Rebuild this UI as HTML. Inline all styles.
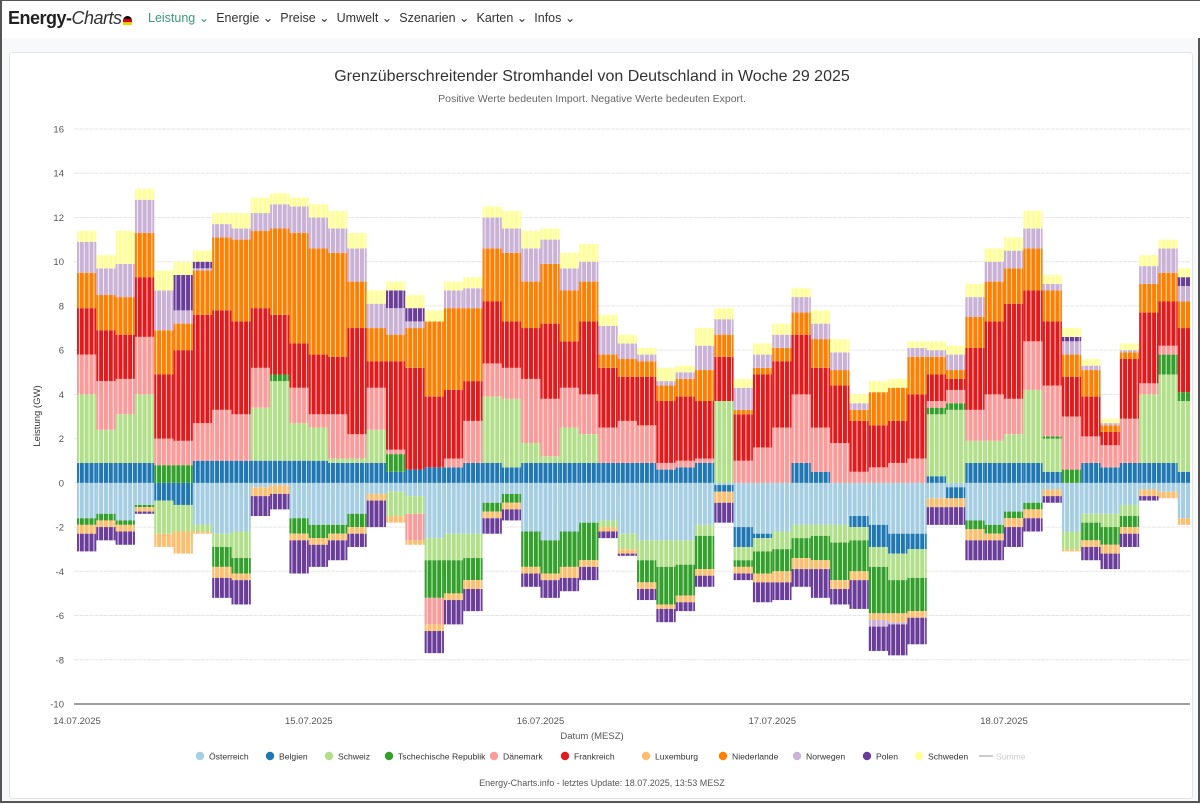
<!DOCTYPE html>
<html><head><meta charset="utf-8"><style>
html,body{margin:0;padding:0}
body{width:1200px;height:803px;overflow:hidden;background:#f8f9fa;font-family:"Liberation Sans",sans-serif;position:relative;box-sizing:border-box;border:2px solid #555;border-top:1px solid #555}
.nav{position:absolute;left:0;top:0;width:1198px;height:37px;background:#fff}
.logo{position:absolute;left:6px;top:7px;font-size:18px;font-weight:bold;color:#222;letter-spacing:-0.5px;white-space:nowrap}
.logo i{font-weight:normal;color:#333}
.flag{display:inline-block;width:9px;height:9px;border-radius:5px 5px 0 0;background:linear-gradient(#000 0 33%,#d00 33% 66%,#fc0 66%);vertical-align:-1px;margin-left:1px}
.menu{position:absolute;top:9px;font-size:12.5px;color:#333;white-space:nowrap}
.menu span{margin-right:7px}
.card{position:absolute;left:7px;top:51px;width:1182px;height:745px;background:#fff;border:1px solid #e3e3e3;border-radius:3px}
svg text{font-family:"Liberation Sans",sans-serif}
</style></head><body>
<div class="nav">
<div class="logo">Energy-<i>Charts</i><span class="flag"></span></div>
<div class="menu" style="left:146px"><span style="color:#3a9a7a">Leistung ⌄</span><span>Energie ⌄</span><span>Preise ⌄</span><span>Umwelt ⌄</span><span>Szenarien ⌄</span><span>Karten ⌄</span><span>Infos ⌄</span></div>
</div>
<div class="card"></div>
<svg id="chart" width="1200" height="803" style="position:absolute;left:0;top:0">
<text x="590" y="80" text-anchor="middle" font-size="16" fill="#333">Grenzüberschreitender Stromhandel von Deutschland in Woche 29 2025</text>
<text x="590" y="101" text-anchor="middle" font-size="10.5" fill="#666">Positive Werte bedeuten Import. Negative Werte bedeuten Export.</text>
<text transform="translate(38,415) rotate(-90)" text-anchor="middle" font-size="9.5" fill="#333">Leistung (GW)</text>
<text x="590" y="738" text-anchor="middle" font-size="9.5" fill="#555">Datum (MESZ)</text>
<text x="600" y="785" text-anchor="middle" font-size="9" fill="#555">Energy-Charts.info - letztes Update: 18.07.2025, 13:53 MESZ</text>
<g id="grid"></g><g id="bars"></g><g id="axes"></g><g id="legend"></g>
</svg>
<script>
const hours=[0,2,4,6,8,10,12,14,16,18,20,22,24,26,28,30,32,34,36,38,40,42,44,46,48,50,52,54,56,58,60,62,64,66,68,70,72,74,76,78,80,82,84,86,88,90,92,94,96,98,100,102,104,106,108,110,112,114];
const AT=[-1.6,-1.4,-1.7,-1.0,0,0,-1.9,-2.3,-2.2,-0.2,-0.1,-1.6,-1.9,-1.9,-1.4,-0.5,-0.4,-0.6,-2.5,-2.3,-2.3,-0.9,-0.5,-2.2,-2.6,-2.2,-1.8,-1.7,-2.3,-2.6,-2.6,-2.6,-1.9,-0.1,-2.0,-2.3,-2.2,-1.9,-1.9,-1.9,-1.5,-1.9,-2.3,-2.3,-0.7,-0.2,-1.7,-1.9,-1.3,-0.9,-0.3,-2.2,-1.4,-1.4,-1.0,-0.3,-0.4,-1.6];
const BE=[0.9,0.9,0.9,0.9,-0.8,-1.0,1.0,1.0,1.0,1.0,1.0,1.0,1.0,0.9,0.9,0.9,0.5,0.6,0.7,0.7,0.9,0.9,0.7,0.9,0.9,0.9,0.9,0.9,0.9,0.9,0.6,0.7,0.9,-0.3,-0.9,-0.2,0,0.9,0.5,0,-0.5,-1.0,-0.9,-0.7,0.3,-0.5,0.9,0.9,0.9,0.9,0.5,0,0.9,0.7,0.9,0.9,0.9,0.5];
const CH=[3.1,1.5,2.2,3.1,-1.5,-1.2,-0.3,-0.6,-1.2,2.4,3.6,1.7,1.5,0.2,0.2,1.5,-1.1,-0.8,-1.0,-1.2,-1.1,3.0,3.1,0.9,0.3,1.6,1.3,-0.3,-0.7,-0.9,-1.2,-1.1,-0.5,3.7,-0.6,-0.6,-0.8,-0.6,-0.5,-0.8,-0.6,-0.9,-1.2,-1.3,2.8,3.3,1.0,1.0,1.3,3.3,1.5,-0.8,-0.4,-0.6,-0.5,3.1,4.0,3.2];
const CZ=[-0.3,-0.3,-0.2,-0.1,0.8,0.8,0,-0.9,-0.7,0,0.3,-0.7,-0.6,-0.4,-0.6,0,0.8,0,-1.7,-1.5,-1.0,-0.4,-0.4,-1.6,-1.5,-1.6,-1.7,0,0,-1.0,-1.7,-1.4,-1.5,0,-0.3,-1.0,-1.0,-0.9,-1.1,-1.7,-1.4,-2.1,-1.5,-1.5,0.3,0.3,-0.4,-0.4,-0.3,-0.3,0.1,0.6,-0.8,-0.8,-0.5,0,0.9,0.4];
const DK=[1.8,2.2,1.6,2.6,1.2,1.1,1.7,2.3,2.1,1.8,0,1.6,0.6,2.0,1.1,1.9,0.2,-1.2,-1.2,0.4,1.9,1.5,1.4,2.9,2.6,1.8,1.8,1.6,1.9,1.7,0.3,0.3,0.2,0,1.0,1.6,2.5,3.1,2.0,1.8,0.5,0.7,0.9,1.1,0.3,0.6,1.4,2.1,1.6,2.2,2.3,2.4,1.2,1.0,2.0,0.5,0.4,0];
const FR=[2.1,2.3,2.0,2.7,2.9,4.1,4.9,4.5,4.2,2.7,2.7,2.0,2.7,2.6,4.8,1.2,4.0,4.6,3.2,3.1,1.8,2.8,2.1,2.3,3.4,2.1,3.3,2.7,2.0,2.2,2.8,2.9,2.6,2.0,2.1,3.3,3.0,2.7,2.7,2.6,2.3,1.9,1.9,2.9,1.2,0.5,2.8,3.3,4.3,2.3,2.9,1.8,1.8,0.6,2.7,3.2,2.0,2.9];
const LU=[-0.4,-0.3,-0.3,-0.2,-0.6,-1.0,-0.1,-0.5,-0.3,-0.4,-0.4,-0.3,-0.3,-0.3,-0.3,-0.3,-0.3,-0.2,-0.3,-0.3,-0.4,-0.3,-0.3,-0.3,-0.3,-0.5,-0.3,-0.2,-0.2,-0.3,-0.2,-0.3,-0.3,-0.5,-0.3,-0.4,-0.5,-0.5,-0.4,-0.4,-0.4,-0.3,-0.4,-0.3,-0.4,-0.4,-0.5,-0.3,-0.4,-0.4,-0.3,-0.1,-0.3,-0.4,-0.3,-0.3,-0.3,-0.3];
const NL=[1.6,1.6,1.7,2.0,2.0,1.2,2.0,3.3,3.7,3.5,3.9,5.0,4.8,4.7,2.1,1.5,1.2,1.8,3.4,3.7,3.3,2.4,3.1,2.1,2.7,2.3,1.8,0.6,0.8,0.7,0.7,0.8,1.4,1.0,0.2,0.3,0.6,1.0,1.3,0.7,0.5,1.5,1.5,1.7,0.8,0.4,1.4,1.8,1.6,1.9,1.4,1.0,1.2,0.3,0.3,1.3,1.3,1.2];
const NO=[1.4,1.2,1.5,1.5,1.8,0.6,0.1,0.6,0.5,0.8,1.1,1.2,1.4,1.1,1.5,1.1,1.2,0.3,0,0.8,0.9,1.4,1.1,1.5,1.1,1.0,0.9,1.3,0.7,0.3,0.2,0.3,1.1,0.7,1.0,0.6,0.6,0.7,0.7,0.8,0.3,-0.3,-0.1,0.4,0.3,0.7,0.9,0.9,0.8,0.9,0.3,0.6,0.2,0.1,0.1,0.8,1.1,0.7];
const PL=[-0.8,-0.6,-0.6,-0.1,0,1.6,0.3,-0.9,-1.1,-0.9,-0.7,-1.5,-1.0,-0.9,-0.6,-1.2,0.8,0.6,-1.0,-1.1,-1.0,-0.7,-0.5,-0.6,-0.8,-0.6,-0.6,-0.3,-0.1,-0.5,-0.6,-0.4,-0.5,-0.9,-0.3,-0.9,-0.8,-0.8,-1.3,-0.7,-1.3,-1.1,-1.4,-1.2,-0.8,-0.8,-0.9,-0.9,-0.9,-0.6,-0.3,0.2,-0.6,-0.7,-0.6,-0.2,0,0.4];
const SE=[0.5,0.6,1.5,0.5,0.9,0.6,0.5,0.5,0.7,0.7,0.5,0.4,0.6,0.8,0.7,0.6,0.4,0.6,0.5,0.4,0.5,0.5,0.8,0.8,0.5,0.7,0.8,0.5,0.4,0.3,0.6,0.3,0.8,0.5,0.4,0.5,0.5,0.4,0.6,0.6,0.4,0.5,0.4,0.3,0.4,0.4,0.6,0.6,0.6,0.8,0.4,0.4,0.3,0.2,0.3,0.5,0.4,0.4];
const seriesNames=["Österreich","Belgien","Schweiz","Tschechische Republik","Dänemark","Frankreich","Luxemburg","Niederlande","Norwegen","Polen","Schweden"];
const seriesValues=[AT,BE,CH,CZ,DK,FR,LU,NL,NO,PL,SE];
const yTicks=[16,14,12,10,8,6,4,2,0,-2,-4,-6,-8,-10];
const xTickLabels=["14.07.2025","15.07.2025","16.07.2025","17.07.2025","18.07.2025"];
const xTickHours=[0,24,48,72,96];

const colors=["#a6cee3","#1f78b4","#b2df8a","#33a02c","#fb9a99","#e31a1c","#fdbf6f","#ff7f00","#cab2d6","#6a3d9a","#ffff99"];
const NS="http://www.w3.org/2000/svg";
const L=72,R=1188,T=128,B=703,yMin=-10,yMax=16,hourPx=9.656,x0=75;
const y=v=>B-(v-yMin)/(yMax-yMin)*(B-T);
const x=h=>x0+h*hourPx;
function mk(tag,attrs,parent){const e=document.createElementNS(NS,tag);for(const k in attrs)e.setAttribute(k,attrs[k]);parent.appendChild(e);return e;}
const grid=document.getElementById('grid'),bars=document.getElementById('bars'),axes=document.getElementById('axes'),leg=document.getElementById('legend');
yTicks.forEach(v=>{
 const ln=mk('line',{x1:L,x2:R,y1:y(v),y2:y(v),stroke:v===yMin?'#666':'#e6e6e6','stroke-width':v===yMin?1.3:1},grid);
 
 
 const t=mk('text',{x:62,y:y(v)+3.5,'text-anchor':'end','font-size':9.5,fill:'#555'},axes);
 t.textContent=v;
 
 
});
xTickLabels.forEach((s,i)=>{
 const t=mk('text',{x:x(xTickHours[i]),y:723,'text-anchor':'middle','font-size':9.5,fill:'#555'},axes);
 t.textContent=s;
 
 
});
const clip=mk('clipPath',{id:'pc'},document.getElementById('chart'));
mk('rect',{x:L,y:T-20,width:R-L,height:B-T+20},clip);
bars.setAttribute('clip-path','url(#pc)');
const step=hours[1]-hours[0];
hours.forEach((h,i)=>{
 let pos=0,neg=0;
 seriesValues.forEach((arr,s)=>{
  const v=arr[i]; if(!v) return;
  let a,b; if(v>0){a=pos;pos+=v;b=pos;}else{a=neg;neg+=v;b=neg;}
  const r=mk('rect',{x:x(h),y:Math.min(y(a),y(b)),width:step*hourPx,height:Math.abs(y(a)-y(b)),fill:colors[s]},bars);
  
  
 });
});
for(let xx=x0+2.4;xx<R;xx+=4.83){
 const g=mk('line',{x1:xx,x2:xx,y1:T-20,y2:B-1,stroke:'#fff','stroke-width':0.9,opacity:0.85},bars);
 
 
}
const legX=[198,268,327,387,492,563,644,721,795,865,917];
seriesNames.forEach((n,i)=>{
 const c=mk('circle',{cx:legX[i],cy:755,r:4.2,fill:colors[i]},leg);
 
 
 const t=mk('text',{x:legX[i]+9,y:758.5,'font-size':8.6,fill:'#333'},leg);
 t.textContent=n;
 
 
});
const sl=mk('line',{x1:977,x2:991,y1:755,y2:755,stroke:'#ccc','stroke-width':2},leg);


const st=mk('text',{x:994,y:758.5,'font-size':8.6,fill:'#ccc'},leg);
st.textContent='Summe';


</script>
</body></html>
